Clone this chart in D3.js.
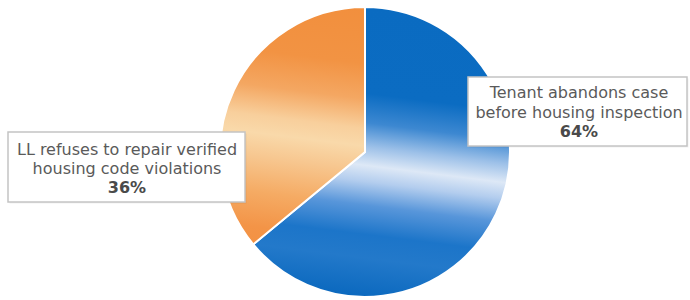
<!DOCTYPE html>
<html>
<head>
<meta charset="utf-8">
<script src="https://cdn.jsdelivr.net/npm/d3@7"></script>
<style>
  body { margin: 0; background: #fff; }
  svg { display: block; font-family: "DejaVu Sans", Verdana, sans-serif; }
</style>
</head>
<body>
<div id="graf"></div>
<script>
// datos
const categorias = ['Tenant abandons case before housing inspection', 'LL refuses to repair verified housing code violations']
const valores = [64, 36]
const lineas = [
  ['Tenant abandons case', 'before housing inspection'],
  ['LL refuses to repair verified', 'housing code violations'],
]

const ancho = 690
const alto = 300
const cx = 365
const cy = 152
const radio = 145

const svg = d3.select('#graf')
  .append('svg')
  .attr('width', ancho)
  .attr('height', alto)

// gradientes (bandas horizontales ligeramente inclinadas)
const defs = svg.append('defs')
const paradas = [
  [
    [0, '#0a6bc1'], [0.3, '#0b6cc2'], [0.4, '#3d88d1'], [0.48, '#9cc0e8'],
    [0.545, '#dde8f6'], [0.6, '#b3cdee'], [0.68, '#5896da'], [0.78, '#1c75c9'],
    [0.86, '#2379ca'], [1, '#0a68be'],
  ],
  [
    [0, '#f28f3d'], [0.2, '#f29343'], [0.32, '#f4a762'], [0.42, '#f8cf9c'],
    [0.48, '#f9d9aa'], [0.56, '#f7c790'], [0.68, '#f5ab64'], [0.8, '#f39447'],
    [1, '#f28c3b'],
  ],
]
// coordenadas locales del grupo (origen en el centro del pie)
paradas.forEach((p, i) => {
  const grad = defs.append('linearGradient')
    .attr('id', 'grad' + i)
    .attr('gradientUnits', 'userSpaceOnUse')
    .attr('x1', 18).attr('y1', -radio)
    .attr('x2', -18).attr('y2', radio)
  grad.selectAll('stop')
    .data(p)
    .join('stop')
    .attr('offset', (d) => d[0])
    .attr('stop-color', (d) => d[1])
})

const pie = d3.pie().sort(null).value((d) => d)
const arco = d3.arc().innerRadius(0).outerRadius(radio)

const g = svg.append('g').attr('transform', `translate(${cx}, ${cy})`)

g.selectAll('path')
  .data(pie(valores))
  .join('path')
  .attr('d', arco)
  .attr('fill', (d, i) => `url(#grad${i})`)
  .attr('stroke', '#ffffff')
  .attr('stroke-width', 2)

// etiquetas
const cajas = [
  { x: 468, y: 77, w: 219, h: 69, tx: 579, ty: [98, 118, 137] },
  { x: 8, y: 132, w: 237, h: 70, tx: 127, ty: [155, 174, 193] },
]

cajas.forEach((c, i) => {
  const et = svg.append('g').attr('class', 'etiqueta')
  et.append('rect')
    .attr('x', c.x + 1.5).attr('y', c.y + 1.5)
    .attr('width', c.w).attr('height', c.h)
    .attr('fill', '#000').attr('opacity', 0.06)
  et.append('rect')
    .attr('x', c.x).attr('y', c.y)
    .attr('width', c.w).attr('height', c.h)
    .attr('fill', '#fff')
    .attr('stroke', '#c4c4c4')
    .attr('stroke-width', 1.5)
  const txt = et.append('text')
    .attr('text-anchor', 'middle')
    .attr('font-size', 16)
    .attr('fill', '#5a5a5a')
  lineas[i].forEach((l, j) => {
    txt.append('tspan').attr('x', c.tx).attr('y', c.ty[j]).text(l)
  })
  txt.append('tspan')
    .attr('x', c.tx).attr('y', c.ty[2])
    .attr('font-weight', 'bold')
    .attr('fill', '#4a4a4a')
    .text(valores[i] + '%')
})
</script>
</body>
</html>
